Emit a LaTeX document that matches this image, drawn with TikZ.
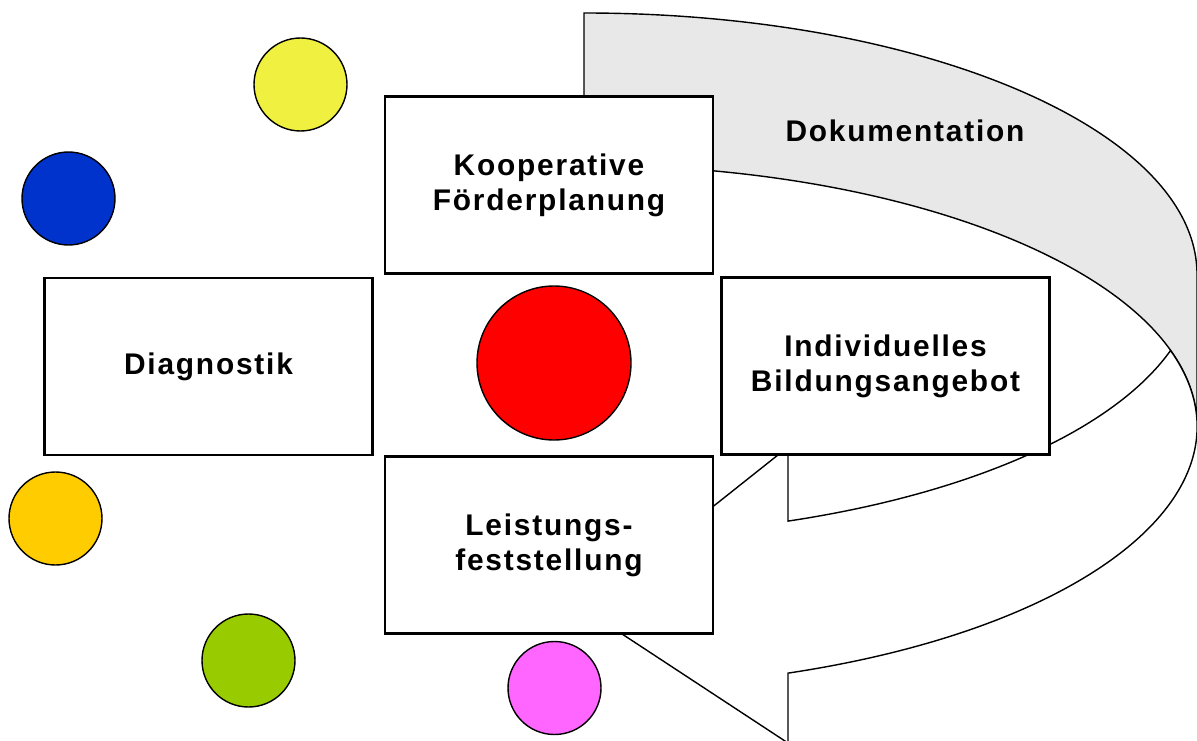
\documentclass[tikz,border=0pt]{standalone}
\usepackage{fontspec}
\setmainfont{Liberation Sans}[LetterSpace=6]
\begin{document}
\begin{tikzpicture}[
        blockbox/.style={draw=black,line width=1.2pt,fill=white,
            minimum width=6.56cm,minimum height=3.54cm,align=center,
            font=\bfseries\fontsize{17}{20}\selectfont},
        ball/.style={circle,draw=black,line width=0.8pt,inner sep=0pt,minimum size=1.86cm},
        band/.style={draw=black,line width=0.8pt}
    ]
    \useasboundingbox (0,0) rectangle (23.94,14.8);
    % back of the curved arrow
    \draw[band,fill=black!9]
        (11.68,14.54) arc[start angle=90,end angle=0,x radius=12.26cm,y radius=5.23cm]
        --(23.94,6.27)
        arc[start angle=0,end angle=90,x radius=12.26cm,y radius=5.23cm]
        --cycle;
    % front of the curved arrow, with head
    \draw[band,fill=white]
        (15.76,4.378) arc[start angle=-70.56,end angle=-16.9,x radius=12.26cm,y radius=5.23cm]
        arc[start angle=16.9,end angle=-70.56,x radius=12.26cm,y radius=5.23cm]
        --(15.76,-0.06)--(11.68,2.62)--(15.76,5.86)
        --cycle;
    \node[font=\bfseries\fontsize{17}{20}\selectfont] (doku) at (18.1,12.18) {Dokumentation};
    % boxes
    \node[blockbox] (koop) at (10.98,11.1) {Kooperative\\Förderplanung};
    \node[blockbox] (diag) at (4.17,7.47) {Diagnostik};
    \node[blockbox] (indiv) at (17.71,7.48) {Individuelles\\Bildungsangebot};
    \node[blockbox] (leist) at (10.98,3.9) {Leistungs-\\feststellung};
    % circles
    \node[ball,fill={rgb,255:red,240;green,240;blue,64}] (gelb) at (6.01,13.11) {};
    \node[ball,fill={rgb,255:red,0;green,51;blue,204}] (blau) at (1.37,10.83) {};
    \node[ball,fill={rgb,255:red,255;green,0;blue,0},minimum size=3.08cm] (rot) at (11.08,7.54) {};
    \node[ball,fill={rgb,255:red,255;green,204;blue,0}] (orange) at (1.11,4.43) {};
    \node[ball,fill={rgb,255:red,153;green,204;blue,0}] (gruen) at (4.97,1.59) {};
    \node[ball,fill={rgb,255:red,255;green,102;blue,255}] (rosa) at (11.09,1.04) {};
\end{tikzpicture}
\end{document}
